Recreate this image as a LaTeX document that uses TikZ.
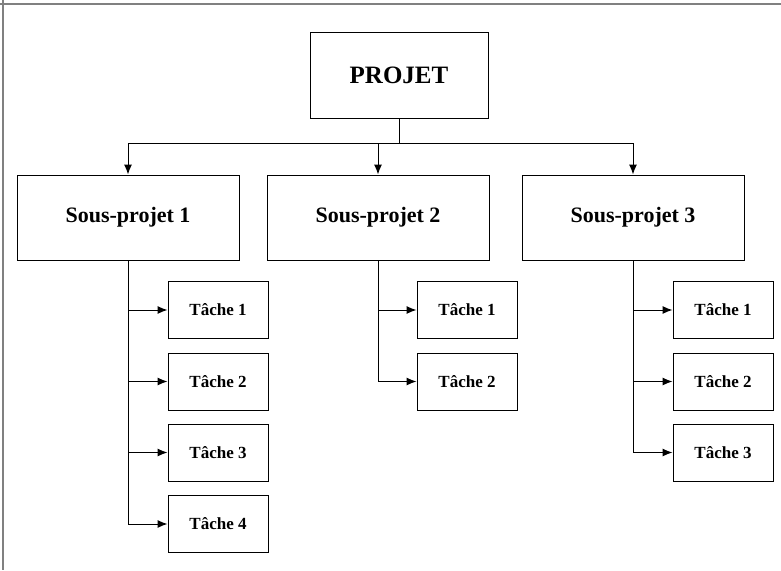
\documentclass[tikz,border=0pt]{standalone}
\usepackage{fontspec}
\setmainfont{Liberation Serif}
\usetikzlibrary{arrows.meta}
\begin{document}
\begin{tikzpicture}[x=1pt, y=-1pt, line width=1pt,
  arr/.style={-{Latex[length=10pt,width=8pt]}},
  box/.style={draw, font=\bfseries, inner sep=0pt},
  top/.style={box, minimum width=178pt, minimum height=86pt, font=\bfseries\fontsize{25}{30}\selectfont},
  sub/.style={box, minimum width=222pt, minimum height=85pt, font=\bfseries\fontsize{22}{26}\selectfont},
  task/.style={box, minimum width=100pt, minimum height=57pt, font=\bfseries\fontsize{17}{20}\selectfont}]
\useasboundingbox (0,0) rectangle (781,570);
\draw[gray, line width=1.6pt](0,4)--(781,4);
\draw[gray, line width=1.6pt](3,0)--(3,570);

\node[top] (projet) at (399,75) {PROJET};
\node[sub] (sp1) at (128,217.5) {Sous-projet 1};
\node[sub] (sp2) at (378,217.5) {Sous-projet 2};
\node[sub] (sp3) at (633,217.5) {Sous-projet 3};
\coordinate (bus) at (399,143);

\draw (projet.south)--(projet.south |- bus);
\draw (sp1.north |- bus)--(sp3.north |- bus);
\draw[arr] (sp1.north |- bus)--(sp1.north);
\draw[arr] (sp2.north |- bus)--(sp2.north);
\draw[arr] (sp3.north |- bus)--(sp3.north);

% taches
\foreach \i/\y in {1/310,2/381.5,3/452.5,4/524}
  \node[task] (t1\i) at (218,\y) {Tâche \i};
\foreach \i/\y in {1/310,2/381.5}
  \node[task] (t2\i) at (467,\y) {Tâche \i};
\foreach \i/\y in {1/310,2/381.5,3/452.5}
  \node[task] (t3\i) at (723,\y) {Tâche \i};

\foreach \i in {1,...,4}
  \draw[arr] (sp1.south) |- (t1\i.west);
\foreach \i in {1,2}
  \draw[arr] (sp2.south) |- (t2\i.west);
\foreach \i in {1,...,3}
  \draw[arr] (sp3.south) |- (t3\i.west);
\end{tikzpicture}
\end{document}
